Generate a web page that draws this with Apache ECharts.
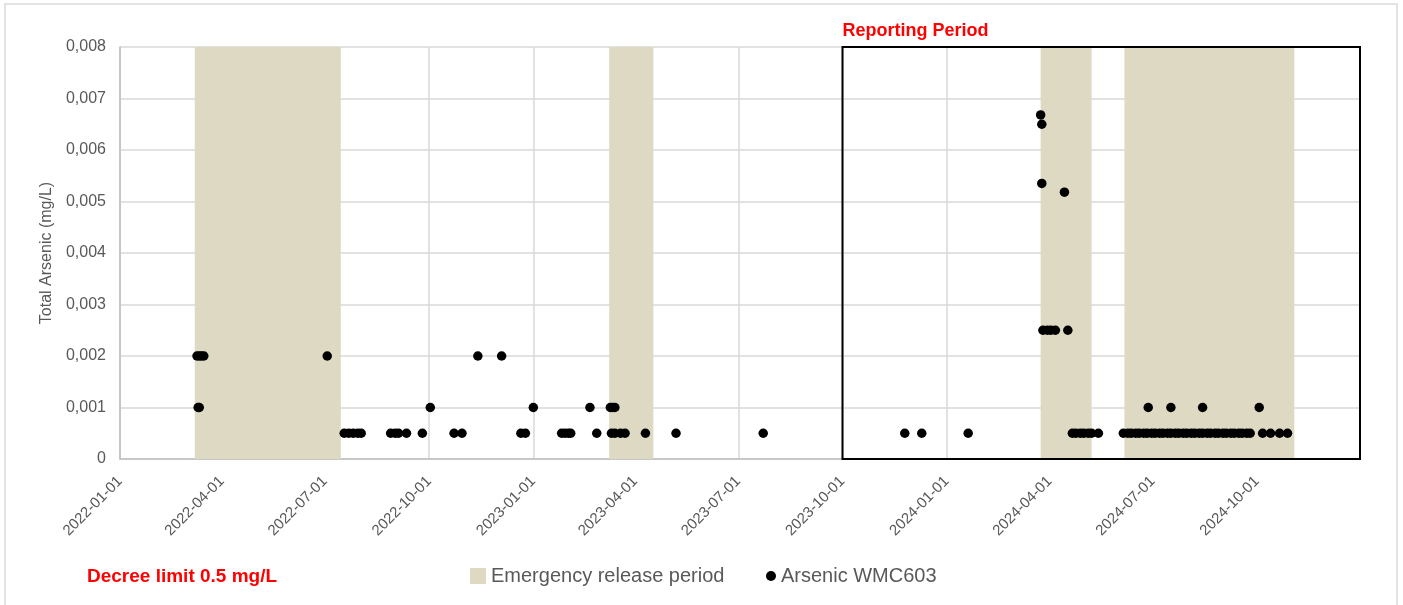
<!DOCTYPE html>
<html>
<head>
<meta charset="utf-8">
<script src="https://cdn.jsdelivr.net/npm/echarts@6/dist/echarts.min.js"></script>
<style>
html,body{margin:0;padding:0;background:#fff;}
#c{width:1403px;height:605px;position:absolute;left:0;top:0;}
#frame{position:absolute;left:4px;top:3px;width:1394px;height:640px;border:2px solid #E3E3E3;box-sizing:border-box;pointer-events:none;}
</style>
</head>
<body>
<div id="c"></div>
<div id="frame"></div>
<script>
// ---- data ----
const quarterTicks = ['2022-01-01','2022-04-01','2022-07-01','2022-10-01','2023-01-01','2023-04-01','2023-07-01','2023-10-01','2024-01-01','2024-04-01','2024-07-01','2024-10-01'];
const xRange = ['2022-01-01', '2024-12-31'];
const yRange = [0, 0.008];
const yStep = 0.001;

const emergencyStarts = ['2022-03-08','2023-03-09','2024-03-24','2024-06-06'];
const emergencyEnds   = ['2022-07-15','2023-04-17','2024-05-08','2024-11-03'];

const reportingStart = '2023-10-01';
const reportingEnd = '2024-12-31';

const arsenicDates = [
  '2022-03-10','2022-03-12','2022-03-14','2022-03-16','2022-03-11','2022-03-12',
  '2022-07-03',
  '2022-07-18','2022-07-22','2022-07-26','2022-07-30','2022-08-02',
  '2022-08-28','2022-09-01','2022-09-04','2022-09-11','2022-09-25',
  '2022-10-02','2022-10-23','2022-10-30',
  '2022-11-13','2022-12-04',
  '2022-12-21','2022-12-25','2023-01-01',
  '2023-01-26','2023-01-29','2023-02-01','2023-02-03',
  '2023-02-20','2023-02-26',
  '2023-03-10','2023-03-12','2023-03-14',
  '2023-03-11','2023-03-14','2023-03-19','2023-03-23',
  '2023-04-10','2023-05-07','2023-07-23',
  '2023-11-25','2023-12-10','2024-01-20',
  '2024-03-24','2024-03-25','2024-03-25',
  '2024-03-26','2024-03-30','2024-04-02','2024-04-06',
  '2024-04-14','2024-04-17',
  '2024-04-21','2024-04-24','2024-04-28','2024-05-01','2024-05-05','2024-05-08','2024-05-14',
  '2024-06-05','2024-06-09','2024-06-12','2024-06-16','2024-06-19','2024-06-23','2024-06-26','2024-06-30',
  '2024-07-03','2024-07-07','2024-07-10','2024-07-14','2024-07-17','2024-07-21','2024-07-24','2024-07-28','2024-07-31',
  '2024-08-04','2024-08-07','2024-08-11','2024-08-14','2024-08-18','2024-08-21','2024-08-25','2024-08-28',
  '2024-09-01','2024-09-04','2024-09-08','2024-09-11','2024-09-15','2024-09-18','2024-09-22','2024-09-25',
  '2024-10-06','2024-10-13','2024-10-21','2024-10-28',
  '2024-06-27','2024-07-17','2024-08-14','2024-10-03'
];
const arsenicValues = [
  0.002,0.002,0.002,0.002,0.001,0.001,
  0.002,
  0.0005,0.0005,0.0005,0.0005,0.0005,
  0.0005,0.0005,0.0005,0.0005,0.0005,
  0.001,0.0005,0.0005,
  0.002,0.002,
  0.0005,0.0005,0.001,
  0.0005,0.0005,0.0005,0.0005,
  0.001,0.0005,
  0.001,0.001,0.001,
  0.0005,0.0005,0.0005,0.0005,
  0.0005,0.0005,0.0005,
  0.0005,0.0005,0.0005,
  0.00668,0.0065,0.00535,
  0.0025,0.0025,0.0025,0.0025,
  0.00518,0.0025,
  0.0005,0.0005,0.0005,0.0005,0.0005,0.0005,0.0005,
  0.0005,0.0005,0.0005,0.0005,0.0005,0.0005,0.0005,0.0005,
  0.0005,0.0005,0.0005,0.0005,0.0005,0.0005,0.0005,0.0005,0.0005,
  0.0005,0.0005,0.0005,0.0005,0.0005,0.0005,0.0005,0.0005,
  0.0005,0.0005,0.0005,0.0005,0.0005,0.0005,0.0005,0.0005,
  0.0005,0.0005,0.0005,0.0005,
  0.001,0.001,0.001,0.001
];

// ---- chart ----
function localTime(s){ const p = s.split('-').map(Number); return new Date(p[0], p[1]-1, p[2]).getTime(); }
const tickValues = quarterTicks.map(localTime);
const FONT = "'Liberation Sans', Arial, sans-serif";
const GREY = '#595959';
const SHADE = '#DDD9C3';

const chart = echarts.init(document.getElementById('c'), null, {renderer:'canvas'});
chart.setOption({
  animation:false,
  textStyle:{fontFamily:FONT},
  title:{
    text:'Decree limit 0.5 mg/L', left:82, top:562,
    textStyle:{color:'#FF0000', fontWeight:'bold', fontSize:19, fontFamily:FONT}
  },
  legend:[
    {data:['Emergency release period'], left:465, top:561, icon:'rect', itemWidth:16, itemHeight:16,
     textStyle:{color:GREY, fontSize:20, fontFamily:FONT}},
    {data:['Arsenic WMC603'], left:761, top:561, icon:'circle', itemWidth:10, itemHeight:10,
     textStyle:{color:GREY, fontSize:20, fontFamily:FONT}}
  ],
  grid:{left:120, right:43, top:47, bottom:146, outerBoundsMode:'none'},
  xAxis:{
    type:'time', min:localTime(xRange[0]), max:localTime(xRange[1]),
    axisLine:{show:true, lineStyle:{color:'#BFBFBF', width:1.5}},
    axisTick:{show:false, customValues:tickValues},
    axisLabel:{customValues:tickValues, rotate:45, formatter:'{yyyy}-{MM}-{dd}', color:GREY, fontSize:15, margin:20, hideOverlap:false},
    splitLine:{show:true, lineStyle:{color:'#D9D9D9', width:1.5}}
  },
  yAxis:{
    type:'value', min:yRange[0], max:yRange[1], interval:yStep,
    name:'Total Arsenic (mg/L)', nameLocation:'middle', nameGap:61,
    nameTextStyle:{color:GREY, fontSize:16, fontFamily:FONT},
    axisLine:{show:true, lineStyle:{color:'#BFBFBF', width:1.5}},
    axisTick:{show:false},
    axisLabel:{color:GREY, fontSize:16, margin:14, formatter:v => v === 0 ? '0' : v.toFixed(3).replace('.', ',')},
    splitLine:{show:true, lineStyle:{color:'#D9D9D9', width:1.5}}
  },
  series:[
    {
      name:'Emergency release period', type:'line', data:[], z:1,
      color:SHADE, itemStyle:{color:SHADE}, lineStyle:{color:SHADE},
      markArea:{silent:true, itemStyle:{color:SHADE},
        data: emergencyStarts.map((s,i)=>[{xAxis:localTime(s)},{xAxis:localTime(emergencyEnds[i])}])}
    },
    {
      name:'Reporting', type:'line', data:[], z:3,
      markArea:{silent:true,
        itemStyle:{color:'rgba(0,0,0,0)', borderColor:'#000', borderWidth:2},
        label:{show:true, position:[1,-24], color:'#FF0000', fontWeight:'bold', fontSize:18, fontFamily:FONT},
        data:[[{name:'Reporting Period', xAxis:localTime(reportingStart), yAxis:yRange[0]},{xAxis:localTime(reportingEnd), yAxis:yRange[1]}]]}
    },
    {
      name:'Arsenic WMC603', type:'scatter', z:5, symbolSize:9.5,
      itemStyle:{color:'#000000', opacity:1},
      data: arsenicDates.map((d,i)=>[localTime(d), arsenicValues[i]])
    }
  ]
});
</script>
</body>
</html>
